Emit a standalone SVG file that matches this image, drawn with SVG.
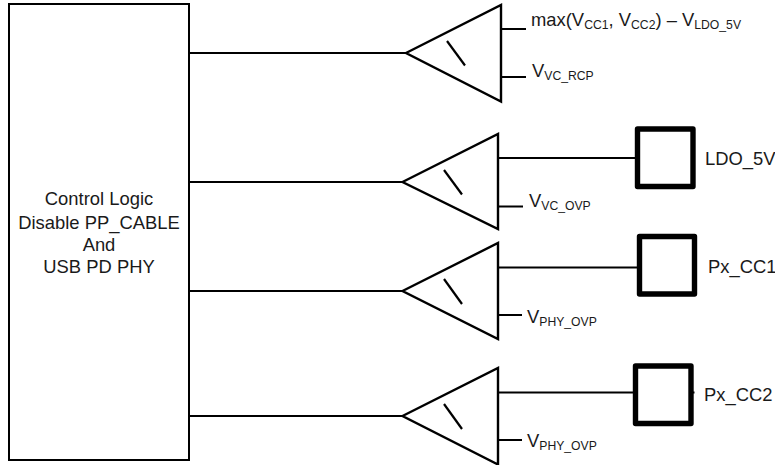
<svg xmlns="http://www.w3.org/2000/svg" width="775" height="465" viewBox="0 0 775 465">
<style>
text{font-family:"Liberation Sans",Arial,sans-serif;font-size:18.4px;fill:#1a1a1a}
.s{font-size:12.2px}
.l{fill:none;stroke:#000;stroke-width:2.2}
.p{fill:#fff;stroke:#000;stroke-width:5.4;stroke-linejoin:round}
.t{fill:#fff;stroke:#000;stroke-width:2.4}
.m{text-anchor:middle}
</style>
<g id="connectors">
<path class="l" d="M190 53H406M190 182H402M190 291H402M190 416H402"/>
<path class="l" d="M501 29H526M501 77H526M498 158H636M498 206.500H523M498 267.500H638M498 315H522M498 392.500H694.500M498 440H522"/>
</g>
<g id="control-logic">
<rect x="9" y="4" width="180" height="456" fill="#fff" stroke="#000" stroke-width="2"/>
<text class="m" x="99" y="205">Control Logic</text>
<text class="m" x="99" y="228.500">Disable PP_CABLE</text>
<text class="m" x="99" y="251">And</text>
<text class="m" x="99" y="273">USB PD PHY</text>
</g>
<g id="comparator-1">
<path class="t" d="M406 53L501 5V101.500Z"/><path class="l" d="M447 41L465 65.500"/>
<text x="531" y="26">max(V<tspan class="s" dy="3">CC1</tspan><tspan dy="-3">, V</tspan><tspan class="s" dy="3">CC2</tspan><tspan dy="-3">) – V</tspan><tspan class="s" dy="3">LDO_5V</tspan></text>
<text x="532" y="77">V<tspan class="s" dy="3">VC_RCP</tspan></text>
</g>
<g id="comparator-2">
<path class="t" d="M402.500 182L498 134V229Z"/><path class="l" d="M444 170L462 194.500"/>
<text x="529" y="207">V<tspan class="s" dy="3">VC_OVP</tspan></text>
</g>
<g id="comparator-3">
<path class="t" d="M402.500 291L498 243V339Z"/><path class="l" d="M444 279L462 304"/>
<text x="527" y="323">V<tspan class="s" dy="3">PHY_OVP</tspan></text>
</g>
<g id="comparator-4">
<path class="t" d="M402.500 416L498 368V464.500Z"/><path class="l" d="M444 404L462 429"/>
<text x="527" y="447">V<tspan class="s" dy="3">PHY_OVP</tspan></text>
</g>
<g id="pad-ldo">
<rect class="p" x="637.500" y="129" width="55.500" height="57.500"/>
<text x="705" y="165">LDO_5V</text>
</g>
<g id="pad-cc1">
<rect class="p" x="639.500" y="236.500" width="55" height="57.500"/>
<text x="708" y="273">Px_CC1</text>
</g>
<g id="pad-cc2">
<rect class="p" x="635.500" y="366" width="55.500" height="57.500"/>
<text x="704" y="401">Px_CC2</text>
</g>
</svg>
